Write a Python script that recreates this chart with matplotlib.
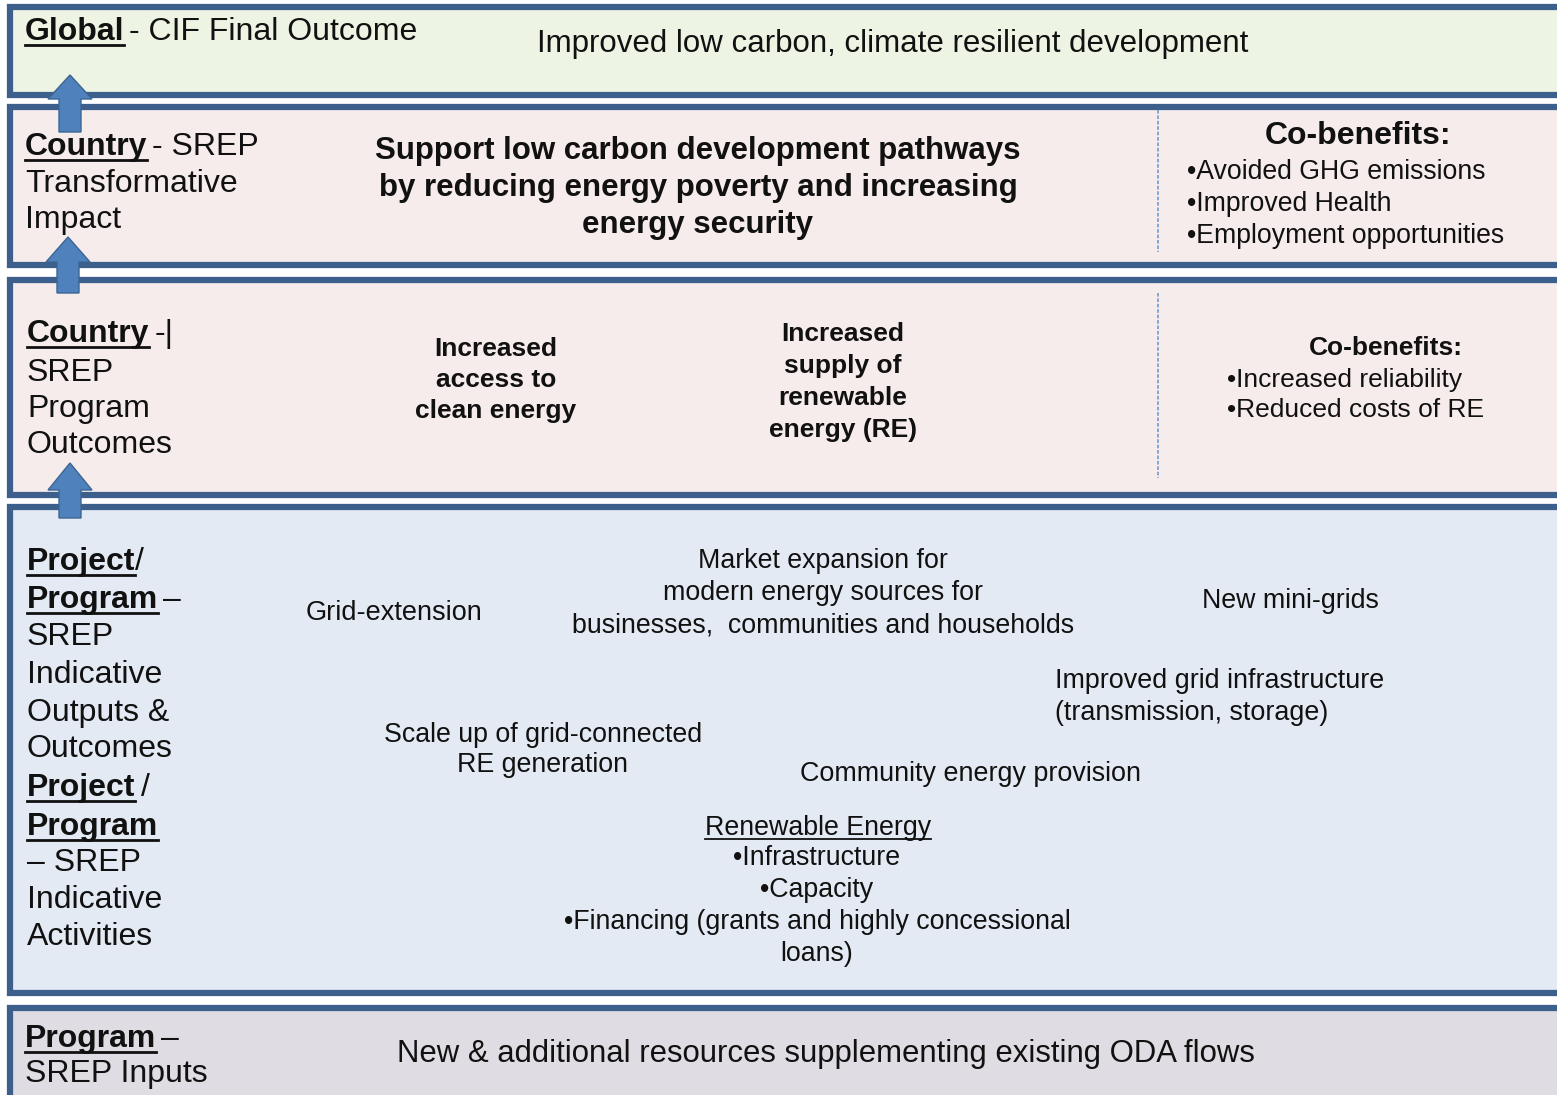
import matplotlib.pyplot as plt
from matplotlib.patches import Rectangle, Polygon

plt.rcParams['font.family'] = ['Liberation Sans', 'DejaVu Sans']

W, H = 1557, 1095

# layer boxes: (top, bottom, fill)
box_tops = [7, 107, 280, 507, 1008]
box_bottoms = [95, 265, 495, 993, 1100]
box_fills = ['#EDF4E3', '#F7ECEC', '#F7ECEC', '#E3EAF3', '#DFDDE3']
edge = '#3C5F8C'

# left hand labels: each line is a list of (text, bold, underline, gap before)
left_labels = [
    (25, [40], [[('Global', True, True, 0), ('- CIF Final Outcome', False, False, 5)]]),
    (25, [155, 192, 228], [[('Country', True, True, 0), ('- SREP', False, False, 5)],
                           [('Transformative', False, False, 0)],
                           [('Impact', False, False, 0)]]),
    (27, [342, 381, 417, 453], [[('Country', True, True, 0), ('-|', False, False, 5)],
                                [('SREP', False, False, 0)],
                                [('Program', False, False, 0)],
                                [('Outcomes', False, False, 0)]]),
    (27, [570, 608, 645, 683, 721, 757, 796, 835, 871, 908, 945],
     [[('Project', True, True, 0), ('/', False, False, 0)],
      [('Program', True, True, 0), ('\u2013', False, False, 5)],
      [('SREP', False, False, 0)],
      [('Indicative', False, False, 0)],
      [('Outputs &', False, False, 0)],
      [('Outcomes', False, False, 0)],
      [('Project', True, True, 0), ('/', False, False, 6)],
      [('Program', True, True, 0)],
      [('\u2013 SREP', False, False, 0)],
      [('Indicative', False, False, 0)],
      [('Activities', False, False, 0)]]),
    (25, [1047, 1082], [[('Program', True, True, 0), ('\u2013', False, False, 5)],
                        [('SREP Inputs', False, False, 0)]]),
]
left_size = 23

# free text blocks: (x, y, text, size, bold, ha, linespacing)
blocks = [
    (893, 44, 'Improved low carbon, climate resilient development', 22.5, False, 'center', 1.3),
    (698, 188, 'Support low carbon development pathways\nby reducing energy poverty and increasing\nenergy security', 22.5, True, 'center', 1.31),
    (1358, 136, 'Co-benefits:', 23, True, 'center', 1.3),
    (1187, 204, '\u2022Avoided GHG emissions\n\u2022Improved Health\n\u2022Employment opportunities', 19.2, False, 'left', 1.3),
    (496, 380, 'Increased\naccess to\nclean energy', 19, True, 'center', 1.38),
    (843, 382, 'Increased\nsupply of\nrenewable\nenergy (RE)', 19, True, 'center', 1.42),
    (1386, 348, 'Co-benefits:', 19, True, 'center', 1.3),
    (1227, 395, '\u2022Increased reliability\n\u2022Reduced costs of RE', 19, False, 'left', 1.3),
    (394, 613, 'Grid-extension', 19.5, False, 'center', 1.3),
    (823, 593, 'Market expansion for\nmodern energy sources for\nbusinesses,  communities and households', 19.3, False, 'center', 1.3),
    (1290, 601, 'New mini-grids', 19.3, False, 'center', 1.3),
    (1055, 697, 'Improved grid infrastructure\n(transmission, storage)', 19.4, False, 'left', 1.32),
    (543, 750, 'Scale up of grid-connected\nRE generation', 19.3, False, 'center', 1.24),
    (971, 774, 'Community energy provision', 19.4, False, 'center', 1.3),
    (817, 906, '\u2022Infrastructure\n\u2022Capacity\n\u2022Financing (grants and highly concessional\nloans)', 19.3, False, 'center', 1.29),
    (826, 1054, 'New & additional resources supplementing existing ODA flows', 22.4, False, 'center', 1.3),
]

# up arrows between layers: (x, tip, head base, shaft bottom)
arrows = [(70, 75, 99, 132), (68, 237, 262, 293), (70, 463, 490, 518)]

# dotted dividers: (x, y0, y1)
dividers = [(1158, 110, 252), (1158, 293, 478)]

fig = plt.figure(figsize=(W / 100, H / 100), dpi=100)
ax = fig.add_axes([0, 0, 1, 1])
ax.set_xlim(0, W)
ax.set_ylim(H, 0)
ax.axis('off')

for top, bot, fc in zip(box_tops, box_bottoms, box_fills):
    ax.add_patch(Rectangle((10, top), 1560, bot - top, facecolor=fc, edgecolor=edge,
                           lw=4.5, joinstyle='miter', zorder=1))

for x, y0, y1 in dividers:
    ax.plot([x, x], [y0, y1], color='#7EA1CF', lw=1.3, ls=(0, (2, 1)), zorder=2)

for x, tip, base, bottom in arrows:
    pts = [(x, tip), (x + 22, base), (x + 11, base), (x + 11, bottom),
           (x - 11, bottom), (x - 11, base), (x - 22, base)]
    ax.add_patch(Polygon(pts, closed=True, facecolor='#4F81BD', edgecolor='#3D6592',
                         lw=1, zorder=5))

r = fig.canvas.get_renderer()
for x0, ys, lines in left_labels:
    for y, parts in zip(ys, lines):
        x = x0
        for txt, bold, ul, gap in parts:
            x += gap
            t = ax.text(x, y, txt, fontsize=left_size, fontweight='bold' if bold else 'normal',
                        ha='left', va='baseline', color='#111111', zorder=6)
            bb = t.get_window_extent(renderer=r)
            if ul:
                ax.plot([x, x + bb.width], [y + 5, y + 5], color='#111111', lw=2, zorder=6)
            x += bb.width

for x, y, txt, size, bold, ha, ls in blocks:
    ax.text(x, y, txt, fontsize=size, fontweight='bold' if bold else 'normal',
            ha=ha, va='center', multialignment=ha, linespacing=ls,
            color='#111111', zorder=6)

# underlined heading in the activities area
t = ax.text(818, 828, 'Renewable Energy', fontsize=19.3, ha='center', va='center',
            color='#111111', zorder=6)
bb = t.get_window_extent(renderer=r)
ax.plot([818 - bb.width / 2, 818 + bb.width / 2], [839, 839], color='#111111', lw=1.3, zorder=6)

fig.savefig('out.png', dpi=100)
